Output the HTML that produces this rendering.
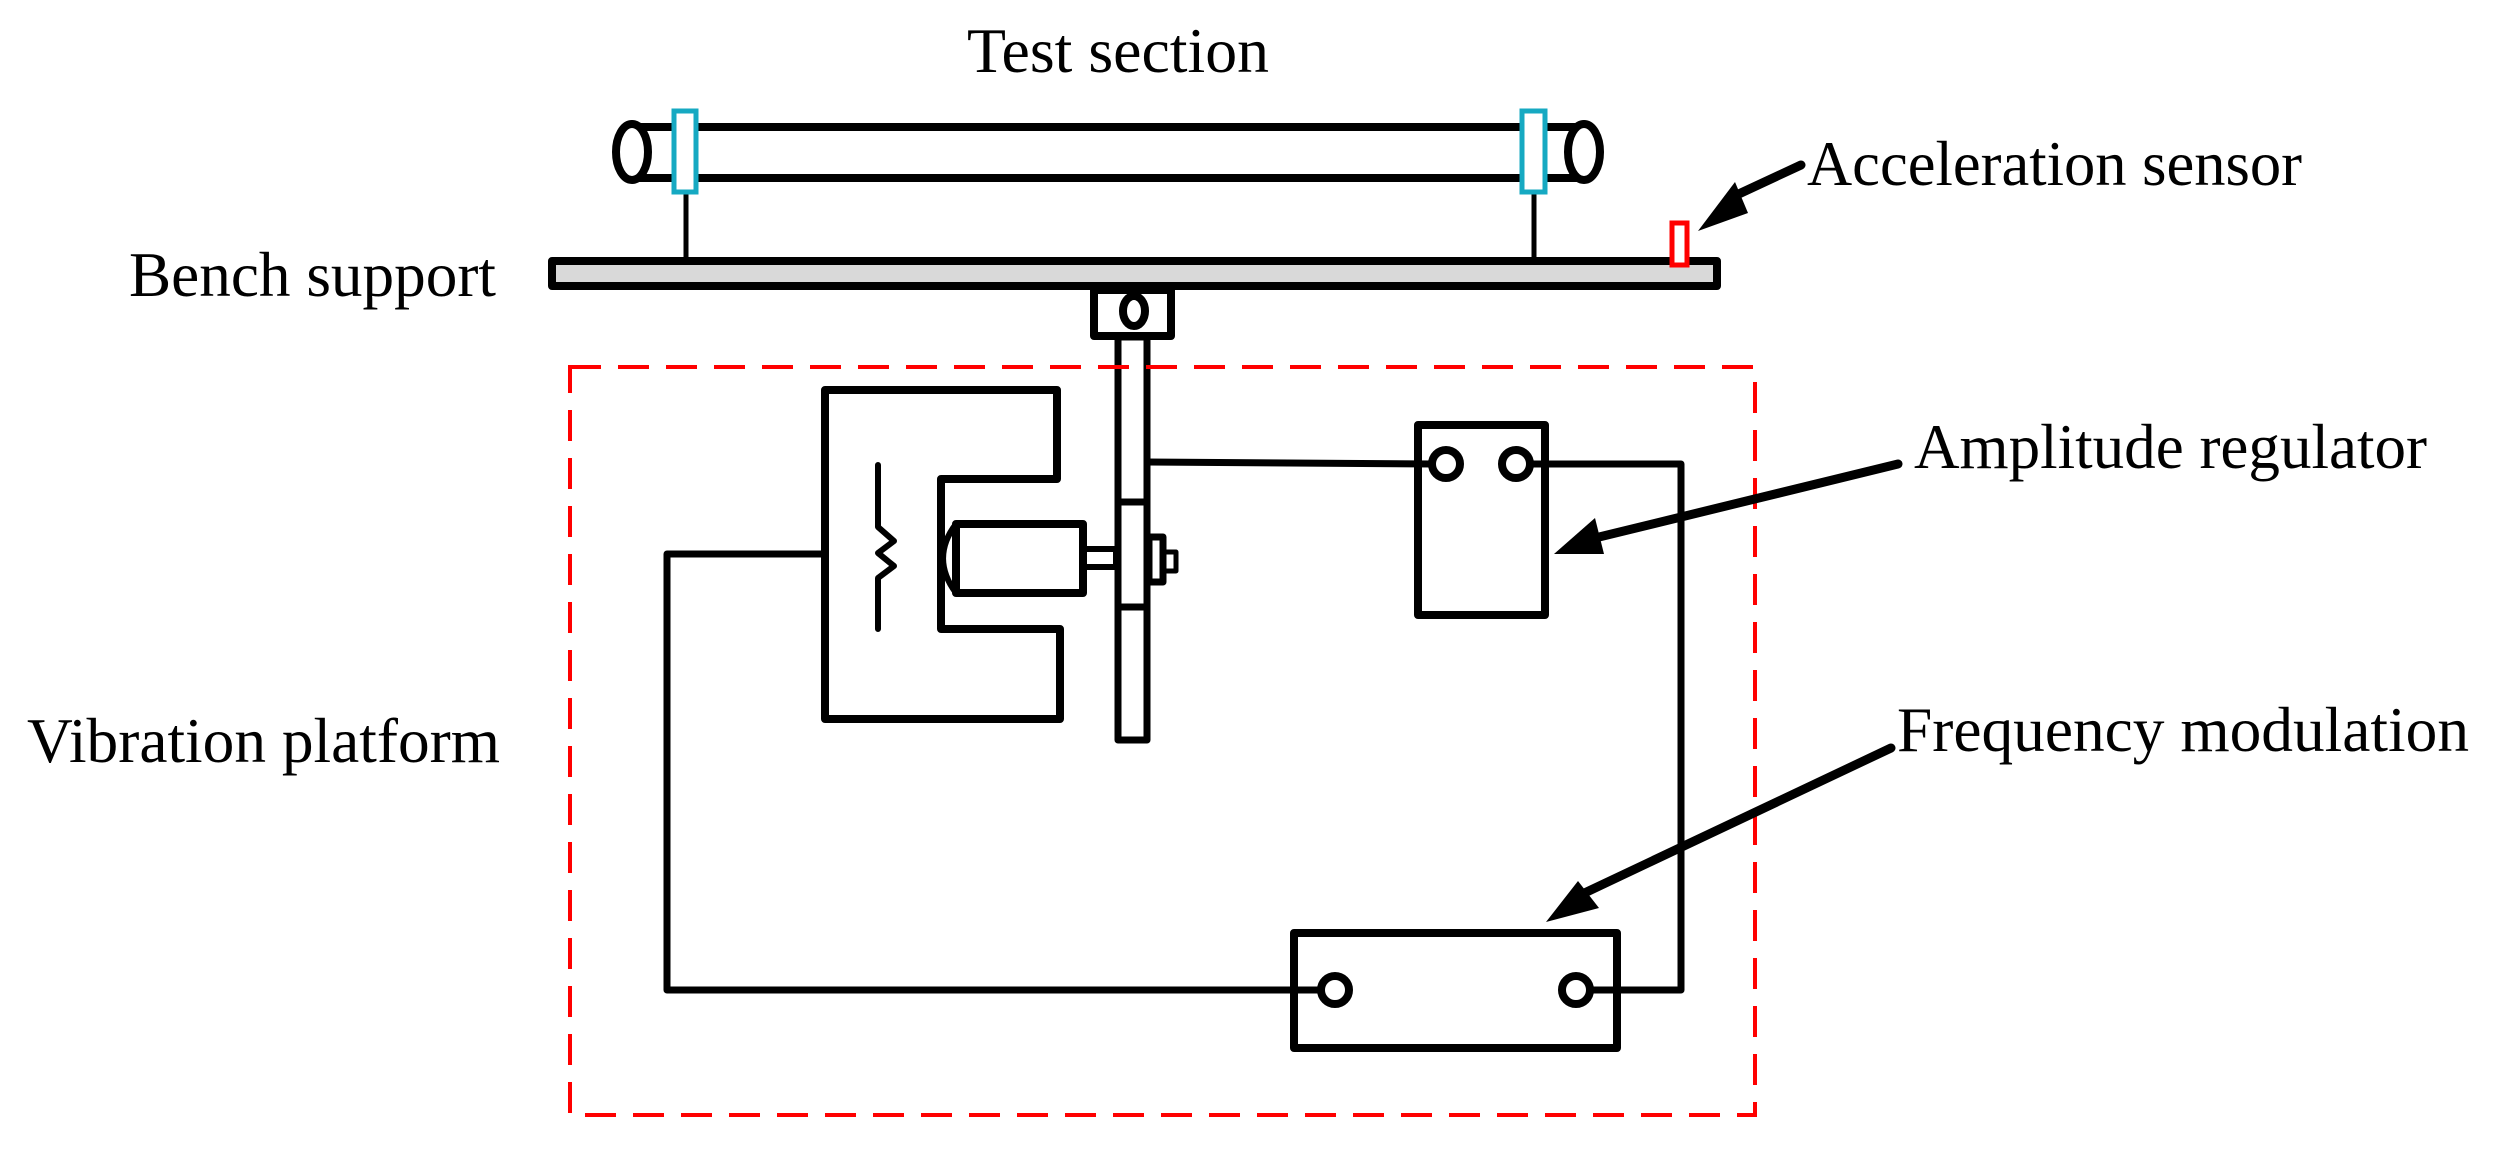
<!DOCTYPE html>
<html><head><meta charset="utf-8"><style>html,body{margin:0;padding:0;background:#fff}svg{display:block}</style></head>
<body>
<svg width="2495" height="1150" viewBox="0 0 2495 1150" xmlns="http://www.w3.org/2000/svg" font-family="Liberation Serif, serif" font-size="64">
<rect width="2495" height="1150" fill="#fff"/>
<text x="967" y="72" textLength="302" lengthAdjust="spacingAndGlyphs">Test section</text>
<text x="1807" y="185" textLength="495" lengthAdjust="spacingAndGlyphs">Acceleration sensor</text>
<text x="129" y="296" textLength="367" lengthAdjust="spacingAndGlyphs">Bench support</text>
<text x="1914" y="468" textLength="513" lengthAdjust="spacingAndGlyphs">Amplitude regulator</text>
<text x="27" y="762" textLength="473" lengthAdjust="spacingAndGlyphs">Vibration platform</text>
<text x="1897" y="751" textLength="572" lengthAdjust="spacingAndGlyphs">Frequency modulation</text>

<g fill="none" stroke="#000" stroke-width="8" stroke-linejoin="round" stroke-linecap="round">
<line x1="632" y1="127" x2="1584" y2="127"/>
<line x1="632" y1="178" x2="1584" y2="178"/>
<ellipse cx="632" cy="152" rx="16" ry="28" fill="#fff"/>
<ellipse cx="1584" cy="152" rx="16" ry="28" fill="#fff"/>
<line x1="686" y1="193" x2="686" y2="258" stroke-width="5"/>
<line x1="1534" y1="193" x2="1534" y2="258" stroke-width="5"/>
<rect x="552" y="261" width="1165" height="25" fill="#d9d9d9"/>
<rect x="1094" y="290" width="77" height="46" fill="#fff"/>
<ellipse cx="1134" cy="311" rx="11" ry="15"/>
<rect x="1118" y="337" width="29" height="403" fill="#fff" stroke-width="7"/>
<line x1="1118" y1="502" x2="1147" y2="502" stroke-width="7"/>
<line x1="1118" y1="607" x2="1147" y2="607" stroke-width="7"/>
<rect x="1149" y="537" width="14" height="45" stroke-width="7"/>
<rect x="1164" y="552" width="12" height="19" stroke-width="5"/>
<path d="M825 390 H1057 V479 H941 V629 H1060 V719 H825 Z"/>
<path d="M878 465 V527 L894 541 L878 553 L894 566 L878 578 V629" stroke-width="6"/>
<rect x="956" y="524" width="127" height="69"/>
<path d="M956 524 Q930 558 956 593" stroke-width="6"/>
<rect x="1083" y="549" width="33" height="18" stroke-width="6"/>
<rect x="1418" y="425" width="127" height="190"/>
<circle cx="1446" cy="464" r="14" fill="#fff"/>
<circle cx="1516" cy="464" r="14" fill="#fff"/>
<rect x="1294" y="933" width="323" height="115"/>
<circle cx="1335" cy="990" r="14" fill="#fff"/>
<circle cx="1576" cy="990" r="14" fill="#fff"/>
<polyline points="1147,462 1432,464" stroke-linecap="butt" stroke-width="7"/>
<polyline points="1530,464 1681,464 1681,990 1590,990" stroke-linecap="butt" stroke-width="7"/>
<polyline points="825,554 667,554 667,990 1321,990" stroke-linecap="butt" stroke-width="7"/>
</g>
<rect x="674" y="111" width="22" height="81" fill="#fff" stroke="#16a9c2" stroke-width="5"/>
<rect x="1522" y="111" width="23" height="81" fill="#fff" stroke="#16a9c2" stroke-width="5"/>
<rect x="1672" y="223" width="15" height="42" fill="#fff" stroke="#ff0000" stroke-width="5"/>
<rect x="570" y="367" width="1185" height="748" fill="none" stroke="#ff0000" stroke-width="4" stroke-dasharray="31 17"/>
<g stroke="#000" stroke-width="9" stroke-linecap="round">
<line x1="1801" y1="165" x2="1728" y2="199"/>
<line x1="1898" y1="464" x2="1595" y2="538"/>
<line x1="1891" y1="748" x2="1576" y2="897"/>
</g>
<g fill="#000">
<polygon points="1698,231 1735,182 1748,213"/>
<polygon points="1554,554 1595,518 1604,554"/>
<polygon points="1546,922 1578,881 1599,908"/>
</g>
</svg>
</body></html>
